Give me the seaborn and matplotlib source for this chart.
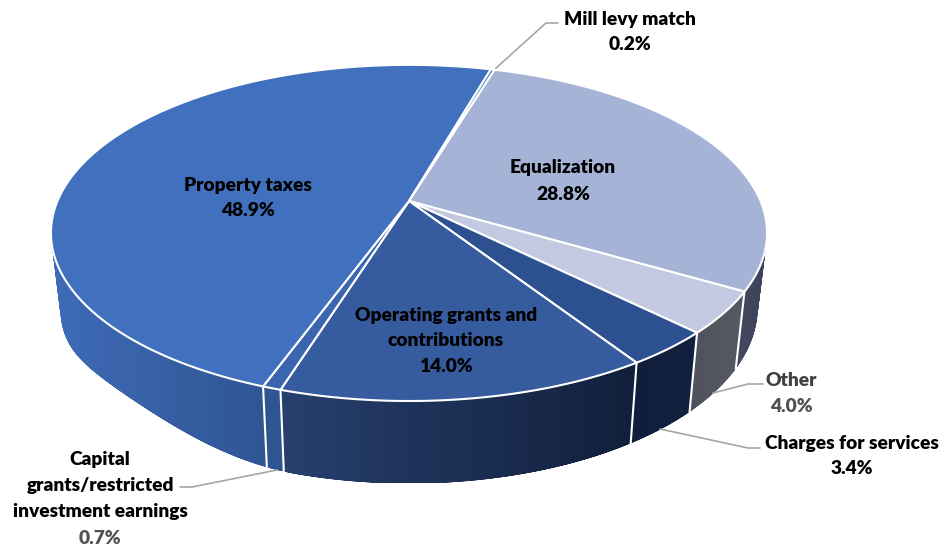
import numpy as np
import matplotlib
matplotlib.use("Agg")
import matplotlib.pyplot as plt
from matplotlib.colors import to_rgb
from matplotlib.path import Path
import seaborn as sns

# Revenue shares, clockwise from the top of the pie
names = ["Equalization", "Other", "Charges for services",
         "Operating grants and\ncontributions", "Capital\ngrants/restricted\ninvestment earnings",
         "Property taxes", "Mill levy match"]
shares = [28.8, 4.0, 3.4, 14.0, 0.7, 48.9, 0.2]
top_colors = ["#A5B3D6", "#C3C9E0", "#2C5090", "#365B9F", "#3A66B0", "#4070BE", "#4070BE"]
# Side wall shade at the right and left end of each slice
wall_colors = [("#3E4258", "#4A4F66"), ("#585A63", "#4F525C"), ("#12213F", "#101E3C"),
               ("#111F3B", "#27406E"), ("#2F5593", "#2F5593"), ("#2F5593", "#3F6CB8"),
               ("#3F6CB8", "#3F6CB8")]
label_colors = ["black", "#404040", "black", "black", "black", "black", "black"]
percent_colors = ["black", "#505050", "black", "black", "#505050", "black", "black"]

START_DEG = 16.7
HUB_X, HUB_Y = 409.0, 201.0
RADIUS_X, RADIUS_Y, TILT = 351.5, 162.0, 0.19
WALL_SCALE_X, WALL_SCALE_Y, WALL_DROP = 0.974, 1.05, 72.5
# The wall grows shallower toward the left side of the pie
SHALLOW_FROM, SHALLOW_TO, SHALLOW_PX = 195.0, 255.0, 15.0
VISIBLE_DEG = (70, 290)


def rim(deg):
    """Perspective projection of a point on the pie's upper rim."""
    a = np.radians(deg)
    u, v = np.sin(a), np.cos(a)
    w = 1 + TILT * v
    return HUB_X + RADIUS_X * u / w, HUB_Y - RADIUS_Y * v / w


def base(deg):
    """Matching point on the lower edge of the side wall."""
    x, y = rim(deg)
    t = np.clip((deg - SHALLOW_FROM) / (SHALLOW_TO - SHALLOW_FROM), 0, 1)
    return (HUB_X + WALL_SCALE_X * (x - HUB_X),
            HUB_Y + WALL_DROP + WALL_SCALE_Y * (y - HUB_Y)
            - SHALLOW_PX * np.sin(np.pi * t) ** 2)


def wound(quad):
    """Return a quad in one fixed winding, so overlaps never cancel in the clip."""
    q = np.array(quad)
    x, y = q[:, 0], q[:, 1]
    area = np.dot(x, np.roll(y, -1)) - np.dot(y, np.roll(x, -1))
    return q if area >= 0 else q[::-1]


sns.set_theme(style="white")
plt.rcParams["font.family"] = ["Lato", "DejaVu Sans"]

fig = plt.figure(figsize=(9.41, 5.49), dpi=100, facecolor="white")
ax = fig.add_axes([0, 0, 1, 1])

edges = START_DEG + np.concatenate([[0], np.cumsum(shares)]) * 3.6

# Side wall: each slice is a horizontal gradient clipped to the band it sweeps
for i in range(len(shares)):
    lo, hi = max(edges[i], VISIBLE_DEG[0]), min(edges[i + 1], VISIBLE_DEG[1])
    if hi <= lo:
        continue
    steps = np.linspace(lo, hi, max(8, int((hi - lo) * 3)))
    # Neighbouring quads overlap by one step so the clip mask has no seams
    ends = np.minimum(np.arange(len(steps) - 1) + 2, len(steps) - 1)
    quads = np.array([wound([rim(steps[k]), rim(steps[e]), base(steps[e]), base(steps[k])])
                      for k, e in enumerate(ends)])
    band = Path.make_compound_path_from_polys(quads)
    right, left = map(np.array, map(to_rgb, wall_colors[i]))
    ramp = np.linspace(0, 1, 256)[:, None]
    pixels = (left + (right - left) * ramp)[None, :, :]
    im = ax.imshow(pixels, extent=[quads[:, :, 0].min(), quads[:, :, 0].max(),
                                   quads[:, :, 1].max(), quads[:, :, 1].min()],
                   aspect="auto", interpolation="bilinear", zorder=2)
    im.set_clip_path(band, transform=ax.transData)

ax.set_xlim(0, 941)
ax.set_ylim(549, 0)
ax.axis("off")

# White separators on the part of the wall that faces the viewer
for deg in edges:
    d = deg % 360
    if 95 < d < 265:
        (x0, y0), (x1, y1) = rim(d), base(d)
        ax.plot([x0, x1], [y0, y1], color="white", lw=1.5, zorder=3)

# Top face of the pie
for i in range(len(shares)):
    arc = np.array([rim(a) for a in np.linspace(edges[i], edges[i + 1],
                                                max(3, int((edges[i + 1] - edges[i]) * 2)))])
    pts = np.vstack([[HUB_X, HUB_Y], arc])
    ax.fill(pts[:, 0], pts[:, 1], facecolor=top_colors[i], edgecolor="white",
            lw=1.5, joinstyle="round", zorder=4)

# Leader lines
leaders = [
    ([495, 546, 558], [69, 23, 23]),
    ([713, 748, 763], [393, 384, 384]),
    ([660, 748, 760], [429, 448, 448]),
    ([277, 192, 180], [470, 487, 487]),
]
for xs, ys in leaders:
    ax.plot(xs, ys, color="#A6A6A6", lw=1.2, zorder=1 if xs[0] == 495 else 5)

# Label centres, one for each slice
label_x = [563, 791, 852, 446, 100, 248, 630]
label_y = [168, 381, 443, 315, 460, 185, 19]
LINE_STEP = 26
FONT_SIZE = 13.8
for i, (name, share) in enumerate(zip(names, shares)):
    lines = name.split("\n")
    for n, line in enumerate(lines):
        ax.text(label_x[i], label_y[i] + n * LINE_STEP, line, ha="center", va="center",
                fontsize=FONT_SIZE, fontweight="heavy", color=label_colors[i], zorder=6)
    ax.text(label_x[i], label_y[i] + len(lines) * LINE_STEP, f"{share:.1f}%", ha="center",
            va="center", fontsize=FONT_SIZE, fontweight="heavy", color=percent_colors[i], zorder=6)

fig.savefig("out.png", dpi=100, facecolor="white")
